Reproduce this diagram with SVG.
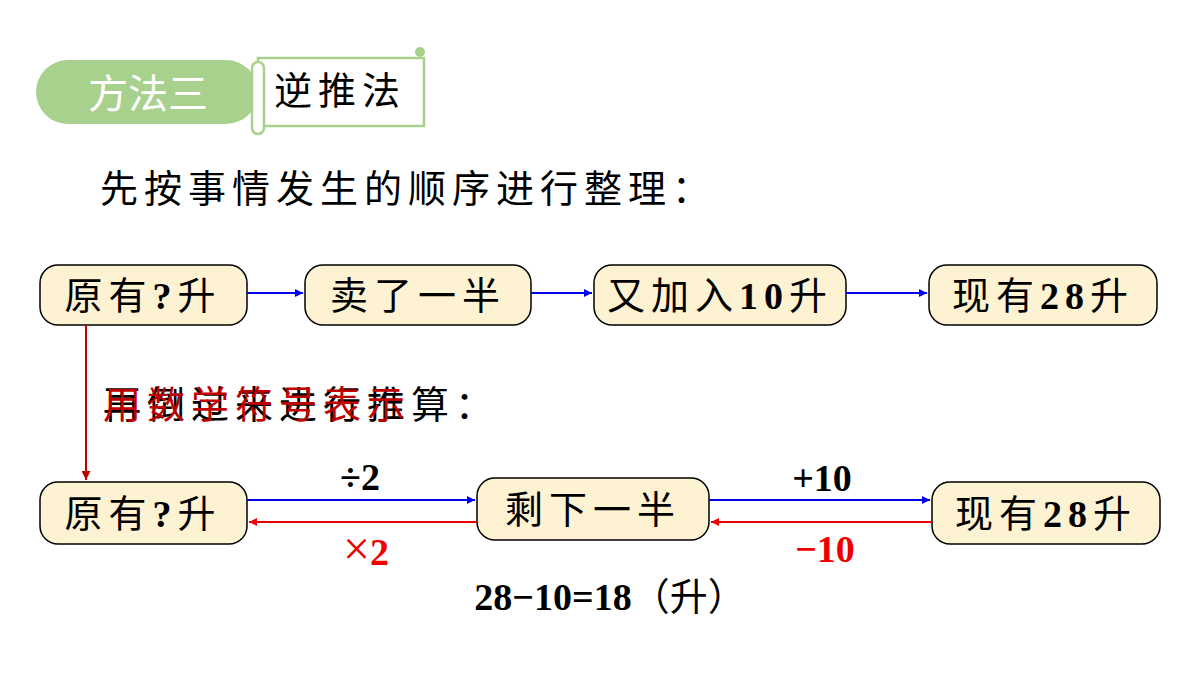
<svg xmlns="http://www.w3.org/2000/svg" width="1200" height="675" viewBox="0 0 1200 675">
<style>
.t{font-family:"Liberation Serif","Noto Sans CJK SC",serif;font-size:38px;fill:#000}
.s{letter-spacing:6px}
.b{font-weight:bold}
.box{fill:#fdf2d2;stroke:#000;stroke-width:1.5}
.bl{stroke:#0000ee;stroke-width:2;fill:none}
.rd{stroke:#ee0000;stroke-width:2;fill:none}
</style>
<defs>
<marker id="ab" viewBox="0 0 10 10" refX="10" refY="5" markerWidth="8" markerHeight="8" orient="auto" markerUnits="userSpaceOnUse"><path d="M0,0L10,5L0,10z" fill="#0000ee"/></marker>
<marker id="ar" viewBox="0 0 10 10" refX="10" refY="5" markerWidth="8" markerHeight="8" orient="auto" markerUnits="userSpaceOnUse"><path d="M0,0L10,5L0,10z" fill="#ee0000"/></marker>
<marker id="ad" viewBox="0 0 10 10" refX="10" refY="5" markerWidth="9" markerHeight="9" orient="auto" markerUnits="userSpaceOnUse"><path d="M0,0L10,5L0,10z" fill="#c00000"/></marker>
</defs>
<g id="title">
<rect x="36" y="60" width="222" height="64" rx="32" fill="#a9d18e"/>
<text x="148" y="108" text-anchor="middle" font-family="Noto Sans CJK SC,sans-serif" font-size="40" fill="#fff">方法三</text>
<rect x="258" y="58" width="166" height="68" fill="#fff" stroke="#a9d18e" stroke-width="2.5"/>
<rect x="252" y="62" width="12" height="72" rx="6" fill="#fff" stroke="#a9d18e" stroke-width="2.5"/>
<circle cx="420" cy="52" r="5" fill="#a9d18e"/>
<text x="340" y="104" text-anchor="middle" class="t s" font-size="36">逆推法</text>
</g>
<text x="100" y="202" class="t s" font-size="39">先按事情发生的顺序进行整理：</text>
<g id="n1"><rect class="box" x="40" y="265" width="207" height="60" rx="18"/><text x="143" y="309" text-anchor="middle" class="t s">原有<tspan class="b">?</tspan>升</text></g>
<g id="n2"><rect class="box" x="305" y="265" width="226" height="60" rx="18"/><text x="418" y="309" text-anchor="middle" class="t s">卖了一半</text></g>
<g id="n3"><rect class="box" x="594" y="265" width="252" height="60" rx="18"/><text x="720" y="309" text-anchor="middle" class="t s">又加入<tspan class="b">10</tspan>升</text></g>
<g id="n4"><rect class="box" x="929" y="265" width="228" height="60" rx="18"/><text x="1043" y="309" text-anchor="middle" class="t s">现有<tspan class="b">28</tspan>升</text></g>
<text x="103" y="418" class="t s" font-size="39">再倒过来进行推算：</text>
<text x="103" y="418" class="t s" font-size="39" style="fill:#c00000">用数学符号表示</text>
<g id="m1"><rect class="box" x="40" y="482" width="207" height="62" rx="18"/><text x="143" y="527" text-anchor="middle" class="t s">原有<tspan class="b">?</tspan>升</text></g>
<g id="m2"><rect class="box" x="477" y="478" width="232" height="62" rx="18"/><text x="593" y="523" text-anchor="middle" class="t s">剩下一半</text></g>
<g id="m3"><rect class="box" x="932" y="482" width="228" height="62" rx="18"/><text x="1046" y="527" text-anchor="middle" class="t s">现有<tspan class="b">28</tspan>升</text></g>
<g id="connectors">
<line class="bl" x1="247" y1="293" x2="303" y2="293" marker-end="url(#ab)"/>
<line class="bl" x1="531" y1="293" x2="592" y2="293" marker-end="url(#ab)"/>
<line class="bl" x1="846" y1="293" x2="927" y2="293" marker-end="url(#ab)"/>
<line x1="86" y1="325" x2="86" y2="480" stroke="#c00000" stroke-width="2" marker-end="url(#ad)"/>
<line class="bl" x1="247" y1="500" x2="475" y2="500" marker-end="url(#ab)"/>
<line class="rd" x1="477" y1="522" x2="249" y2="522" marker-end="url(#ar)"/>
<line class="bl" x1="709" y1="500" x2="930" y2="500" marker-end="url(#ab)"/>
<line class="rd" x1="932" y1="522" x2="711" y2="522" marker-end="url(#ar)"/>
</g>
<text x="360" y="490" text-anchor="middle" class="t b">÷2</text>
<text x="366" y="565" text-anchor="middle" class="t b" style="fill:#ee0000"><tspan font-size="48" font-weight="normal">×</tspan>2</text>
<text x="822" y="491" text-anchor="middle" class="t b">+10</text>
<text x="825" y="562" text-anchor="middle" class="t b" style="fill:#ee0000">−10</text>
<text x="610" y="610" text-anchor="middle" class="t b">28−10=18<tspan font-weight="normal">（升）</tspan></text>
</svg>
